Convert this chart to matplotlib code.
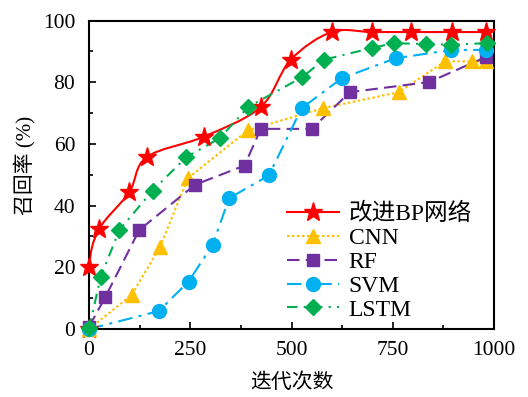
import matplotlib
matplotlib.use("Agg")
import matplotlib.pyplot as plt
import numpy as np
from matplotlib.path import Path
from matplotlib.patches import PathPatch
from matplotlib.lines import Line2D

plt.rcParams['font.family'] = ['Liberation Serif', 'Noto Sans CJK SC']
plt.rcParams['mathtext.fontset'] = 'stix'

# data
bp_x = [0, 0, 25, 99, 142, 284, 424, 498, 599, 698, 795, 896, 980]
bp_y = [0, 20.2, 32.4, 44.3, 55.7, 62.4, 72.0, 87.3, 96.3, 96.3, 96.3, 96.3, 96.3]

cnn_x = [0, 105, 175, 244, 392, 577, 765, 879, 945, 980]
cnn_y = [0, 11.0, 26.5, 48.9, 64.4, 71.6, 76.8, 86.8, 86.8, 86.8]

rf_x = [0, 40, 124, 262, 384, 424, 550, 644, 840, 980]
rf_y = [0.7, 10.3, 32.1, 46.8, 53.0, 64.9, 64.9, 76.8, 80.1, 88.2]

svm_x = [0, 172, 246, 305, 346, 444, 525, 624, 757, 895, 980]
svm_y = [0, 5.8, 15.4, 27.3, 42.4, 49.8, 71.6, 81.3, 87.8, 90.5, 90.5]

lstm_x = [0, 29, 75, 157, 240, 323, 393, 527, 579, 698, 752, 833, 894, 982]
lstm_y = [0.2, 17.0, 32.1, 44.9, 55.7, 61.9, 72.0, 81.7, 87.3, 91.1, 92.7, 92.4, 92.2, 92.7]

labels = ['改进BP网络', 'CNN', 'RF', 'SVM', 'LSTM']
xticks = [0, 250, 500, 750, 1000]
yticks = [0, 20, 40, 60, 80, 100]


def smooth_path(xs, ys, sx=1000.0, sy=100.0):
    P = np.column_stack([np.asarray(xs) / sx, np.asarray(ys) / sy])
    n = len(P)
    verts = [P[0]]
    codes = [Path.MOVETO]
    for i in range(n - 1):
        p0 = P[i - 1] if i > 0 else P[i]
        p1 = P[i]
        p2 = P[i + 1]
        p3 = P[i + 2] if i + 2 < n else P[i + 1]
        c1 = p1 + (p2 - p0) / 6.0
        c2 = p2 - (p3 - p1) / 6.0
        verts += [c1, c2, p2]
        codes += [Path.CURVE4] * 3
    V = np.array(verts)
    V[:, 0] *= sx
    V[:, 1] *= sy
    return Path(V, codes)


fig = plt.figure(figsize=(5.28, 3.97), dpi=100)
ax = fig.add_axes([0.1686, 0.1713, 0.7670, 0.7767])

series = [
    (bp_x, bp_y, '#FF0000', '-', '*', 14, True),
    (cnn_x, cnn_y, '#FFC000', (0, (1.2, 1.2)), '^', 10, False),
    (rf_x, rf_y, '#7030A0', (0, (6, 3)), 's', 9, False),
    (svm_x, svm_y, '#00B0F0', (0, (7, 3, 1.5, 3)), 'o', 10, False),
    (lstm_x, lstm_y, '#00B050', (0, (5, 3, 1, 3)), 'D', 8, False),
]

handles = []
for (xs, ys, c, ls, mk, ms, smooth), lab in zip(series, labels):
    if smooth:
        patch = PathPatch(smooth_path(xs, ys), facecolor='none', edgecolor=c,
                          linewidth=1.5, linestyle=ls, zorder=2)
        ax.add_patch(patch)
    else:
        ax.plot(xs, ys, color=c, linestyle=ls, linewidth=1.5, zorder=2)
    ax.plot(xs, ys, linestyle='none', marker=mk, markersize=ms, color=c,
            markeredgecolor=c, zorder=3, clip_on=False)
    handles.append(Line2D([], [], color=c, linestyle=ls, linewidth=1.5,
                          marker=mk, markersize=ms, markeredgecolor=c))

ax.set_xlim(0, 1000)
ax.set_ylim(0, 100)
ax.set_xticks(xticks)
ax.set_yticks(yticks)
ax.set_xticks([125, 375, 625, 875], minor=True)
ax.set_yticks([10, 30, 50, 70, 90], minor=True)
ax.tick_params(which='both', direction='in', top=False, right=False,
               labelsize=15.5, width=1.2)
ax.tick_params(which='major', length=5)
ax.tick_params(which='minor', length=3)
ax.tick_params(axis='x', which='major', pad=9)
ax.tick_params(axis='y', which='major', pad=10)
for s in ax.spines.values():
    s.set_linewidth(1.5)

ax.set_xlabel('迭代次数', fontsize=15, labelpad=9)
ax.set_ylabel('召回率 (%)', fontsize=15, labelpad=3)
ax.yaxis.set_label_coords(-0.133, 0.53)

leg = ax.legend(handles, labels, loc='center left', bbox_to_anchor=(0.49, 0.218),
                frameon=False, fontsize=17, handlelength=2.2, handletextpad=0.4,
                labelspacing=0.1, borderpad=0, borderaxespad=0)

fig.savefig('out.png', dpi=100)
